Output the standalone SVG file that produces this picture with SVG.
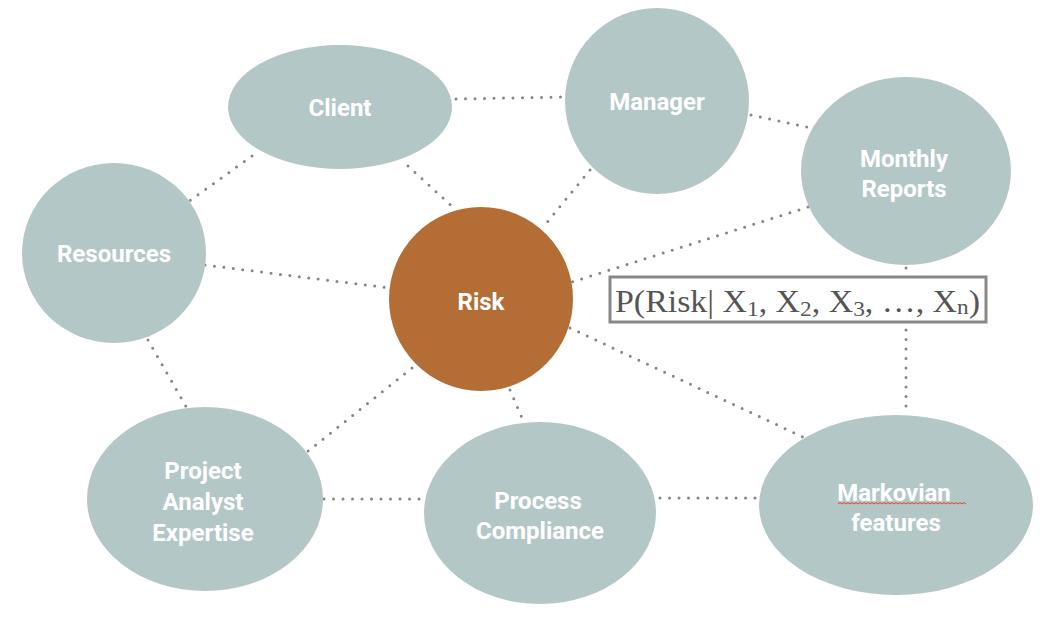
<svg xmlns="http://www.w3.org/2000/svg" width="1052" height="628" viewBox="0 0 1052 628">
<style>
.node{fill:#b4c7c7}
.risk{fill:#b46e35}
.lbl{font-family:"Liberation Sans Narrow","Roboto","DejaVu Sans Condensed",sans-serif;font-weight:bold;font-size:24px;fill:#ffffff;text-anchor:middle}
.conn line{stroke:#858585;stroke-width:3;stroke-linecap:round;stroke-dasharray:0 9.5;fill:none}
.formula{font-family:"Liberation Serif","DejaVu Serif",serif;font-size:32px;fill:#555555}
</style>
<rect width="1052" height="628" fill="#ffffff"/>
<g id="connectors" class="conn">
<line x1="456" y1="99" x2="564" y2="97"/>
<line x1="252" y1="156" x2="188" y2="202"/>
<line x1="408" y1="166" x2="456" y2="210"/>
<line x1="590" y1="170" x2="544" y2="226"/>
<line x1="751" y1="115" x2="812" y2="128"/>
<line x1="808" y1="207" x2="572" y2="282"/>
<line x1="906" y1="268" x2="906" y2="272"/>
<line x1="906" y1="330" x2="906" y2="410"/>
<line x1="205" y1="265" x2="390" y2="288"/>
<line x1="148" y1="340" x2="188" y2="410"/>
<line x1="412" y1="368" x2="307" y2="452"/>
<line x1="510" y1="390" x2="522" y2="418"/>
<line x1="570" y1="328" x2="803" y2="437"/>
<line x1="324" y1="499" x2="420" y2="499"/>
<line x1="660" y1="498" x2="760" y2="498"/>
</g>
<g id="client">
<ellipse class="node" cx="340" cy="107" rx="112" ry="62"/>
<text class="lbl" x="340" y="116">Client</text>
</g>
<g id="manager">
<ellipse class="node" cx="657" cy="101" rx="92" ry="93"/>
<text class="lbl" x="657" y="110">Manager</text>
</g>
<g id="monthly-reports">
<ellipse class="node" cx="906" cy="171" rx="105" ry="94"/>
<text class="lbl" x="904" y="167">Monthly</text>
<text class="lbl" x="904" y="197">Reports</text>
</g>
<g id="resources">
<ellipse class="node" cx="114" cy="253" rx="92" ry="90"/>
<text class="lbl" x="114" y="262">Resources</text>
</g>
<g id="risk">
<circle class="risk" cx="481" cy="299" r="92"/>
<text class="lbl" x="481" y="310">Risk</text>
</g>
<g id="project-analyst-expertise">
<ellipse class="node" cx="205" cy="499" rx="118" ry="92"/>
<text class="lbl" x="203" y="479">Project</text>
<text class="lbl" x="203" y="510">Analyst</text>
<text class="lbl" x="203" y="541">Expertise</text>
</g>
<g id="process-compliance">
<ellipse class="node" cx="540" cy="513" rx="116" ry="91"/>
<text class="lbl" x="538" y="509">Process</text>
<text class="lbl" x="540" y="539">Compliance</text>
</g>
<g id="markovian-features">
<ellipse class="node" cx="896" cy="505" rx="137" ry="90"/>
<text class="lbl" x="894" y="501">Markovian</text>
<path d="M838 504 l2 -1.5 l2 1.5 l2 -1.5 l2 1.5 l2 -1.5 l2 1.5 l2 -1.5 l2 1.5 l2 -1.5 l2 1.5 l2 -1.5 l2 1.5 l2 -1.5 l2 1.5 l2 -1.5 l2 1.5 l2 -1.5 l2 1.5 l2 -1.5 l2 1.5 l2 -1.5 l2 1.5 l2 -1.5 l2 1.5 l2 -1.5 l2 1.5 l2 -1.5 l2 1.5 l2 -1.5 l2 1.5 l2 -1.5 l2 1.5 l2 -1.5 l2 1.5 l2 -1.5 l2 1.5 l2 -1.5 l2 1.5 l2 -1.5 l2 1.5 l2 -1.5 l2 1.5 l2 -1.5 l2 1.5 l2 -1.5 l2 1.5 l2 -1.5 l2 1.5 l2 -1.5 l2 1.5 l2 -1.5 l2 1.5 l2 -1.5 l2 1.5 l2 -1.5 l2 1.5 l2 -1.5 l2 1.5 l2 -1.5 l2 1.5 l2 -1.5 l2 1.5 l2 -1.5 l2 1.5" fill="none" stroke="#e04030" stroke-width="1"/>
<text class="lbl" x="896" y="531">features</text>
</g>
<g id="formula">
<rect x="610" y="277" width="376" height="45" fill="#ffffff" stroke="#888888" stroke-width="3"/>
<text class="formula" x="615" y="312" textLength="365" lengthAdjust="spacingAndGlyphs">P(Risk| X<tspan font-size="22" dy="4">1</tspan><tspan dy="-4">, X</tspan><tspan font-size="22" dy="4">2</tspan><tspan dy="-4">, X</tspan><tspan font-size="22" dy="4">3</tspan><tspan dy="-4">, …, X</tspan><tspan font-size="22" dy="2">n</tspan><tspan dy="-2">)</tspan></text>
</g>
</svg>
